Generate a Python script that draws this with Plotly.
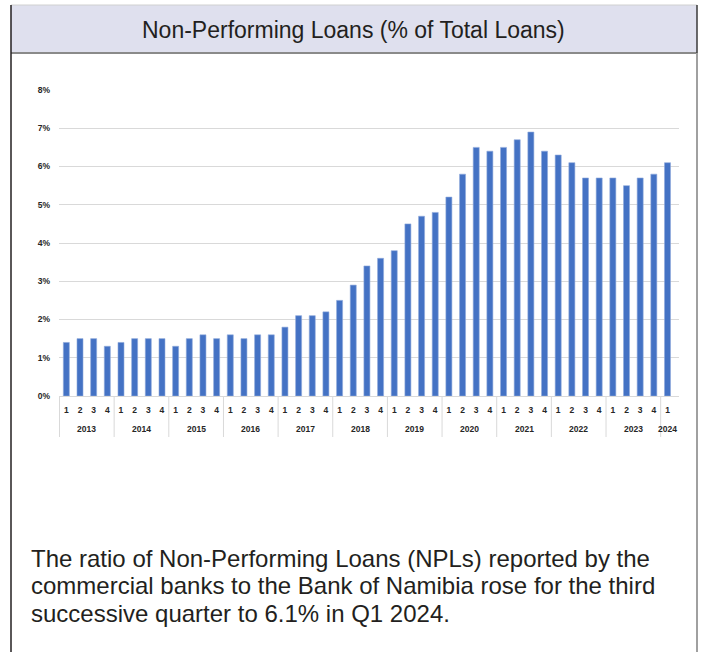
import plotly.graph_objects as go

# Quarterly NPL ratio, % of total loans
years = ["2013"] * 4 + ["2014"] * 4 + ["2015"] * 4 + ["2016"] * 4 + ["2017"] * 4 + \
        ["2018"] * 4 + ["2019"] * 4 + ["2020"] * 4 + ["2021"] * 4 + ["2022"] * 4 + \
        ["2023"] * 4 + ["2024"]
quarters = ["1", "2", "3", "4"] * 11 + ["1"]
npl_ratio = [1.4, 1.5, 1.5, 1.3,
             1.4, 1.5, 1.5, 1.5,
             1.3, 1.5, 1.6, 1.5,
             1.6, 1.5, 1.6, 1.6,
             1.8, 2.1, 2.1, 2.2,
             2.5, 2.9, 3.4, 3.6,
             3.8, 4.5, 4.7, 4.8,
             5.2, 5.8, 6.5, 6.4,
             6.5, 6.7, 6.9, 6.4,
             6.3, 6.1, 5.7, 5.7,
             5.7, 5.5, 5.7, 5.8,
             6.1]
y_ticks = [0, 1, 2, 3, 4, 5, 6, 7, 8]
y_tick_labels = [f"{v}%" for v in y_ticks]

title_text = "Non-Performing Loans (% of Total Loans)"
caption_lines = [
    "The ratio of Non-Performing Loans (NPLs) reported by the",
    "commercial banks to the Bank of Namibia rose for the third",
    "successive quarter to 6.1% in Q1 2024.",
]

W, H = 701, 652
L, R, T, B = 59, 22, 90, 256
PW, PH = W - L - R, H - T - B


def px(x):
    return (x - L) / PW


def py(y):
    return (H - B - y) / PH


# one unique category per quarter; only the quarter number is shown as tick text
period_keys = [f"{y}-Q{q}" for y, q in zip(years, quarters)]

fig = go.Figure(go.Bar(
    x=period_keys,
    y=npl_ratio,
    marker=dict(color="#4472c4", line=dict(color="#8faadc", width=0.6)),
    hovertemplate="%{x}: %{y}%<extra></extra>",
))

tick_font = dict(family="Liberation Sans", size=8.5, color="#262626", weight="bold")

# year groups: label centred under each group, divider at each group's left edge
year_order = list(dict.fromkeys(years))
groups = {y: [i for i, v in enumerate(years) if v == y] for y in year_order}

shapes = [
    # title band
    dict(type="rect", xref="paper", yref="paper", x0=px(11), x1=px(697), y0=py(53), y1=py(5),
         fillcolor="#dfe0ee", line=dict(width=0), layer="below"),
    dict(type="line", xref="paper", yref="paper", x0=px(11), x1=px(697), y0=py(5), y1=py(5),
         line=dict(color="#d0d0d0", width=1)),
    dict(type="line", xref="paper", yref="paper", x0=px(11), x1=px(697), y0=py(53), y1=py(53),
         line=dict(color="#8a8a8a", width=2)),
    # frame sides
    dict(type="line", xref="paper", yref="paper", x0=px(11), x1=px(11), y0=py(5), y1=py(652),
         line=dict(color="#231f20", width=1.5)),
    dict(type="line", xref="paper", yref="paper", x0=px(697), x1=px(697), y0=py(5), y1=py(53),
         line=dict(color="#3a3a3a", width=1.5)),
    dict(type="line", xref="paper", yref="paper", x0=px(697), x1=px(697), y0=py(53), y1=py(652),
         line=dict(color="#a0a0a0", width=2)),
]

annotations = [
    dict(text=title_text, xref="paper", yref="paper", x=px(353), y=py(30),
         xanchor="center", yanchor="middle", showarrow=False,
         font=dict(family="Liberation Sans", size=23, color="#231f20")),
]
for i, line in enumerate(caption_lines):
    annotations.append(dict(
        text=line, xref="paper", yref="paper", x=px(29), y=py(558 + 27.5 * i),
        xanchor="left", yanchor="middle", align="left", showarrow=False,
        font=dict(family="Liberation Sans", size=24, color="#231f20"),
    ))

for yr in year_order:
    idx = groups[yr]
    annotations.append(dict(
        text=yr, xref="x", yref="paper", x=sum(idx) / len(idx), y=py(429),
        xanchor="center", yanchor="middle", showarrow=False, font=tick_font,
    ))
    shapes.append(dict(
        type="line", xref="x", yref="paper", x0=idx[0] - 0.5, x1=idx[0] - 0.5,
        y0=0, y1=py(437), line=dict(color="#d9d9d9", width=1),
    ))

fig.update_layout(
    width=W, height=H,
    margin=dict(l=L, r=R, t=T, b=B),
    paper_bgcolor="white", plot_bgcolor="white",
    showlegend=False,
    bargap=0.56,
    shapes=shapes,
    annotations=annotations,
    font=dict(family="Liberation Sans", color="#262626"),
)

fig.update_yaxes(
    range=[0, 8], tickvals=y_ticks, ticktext=y_tick_labels,
    showgrid=True, gridcolor="#d9d9d9", gridwidth=1,
    zeroline=False, showline=False, ticks="",
    ticklabelstandoff=8,
    tickfont=tick_font,
)

fig.update_xaxes(
    type="category",
    tickvals=period_keys, ticktext=quarters, tickangle=0,
    showline=True, linecolor="#d9d9d9", linewidth=1,
    showgrid=False, ticks="",
    ticklabelstandoff=6,
    tickfont=tick_font,
)

fig.write_html("out.html")
